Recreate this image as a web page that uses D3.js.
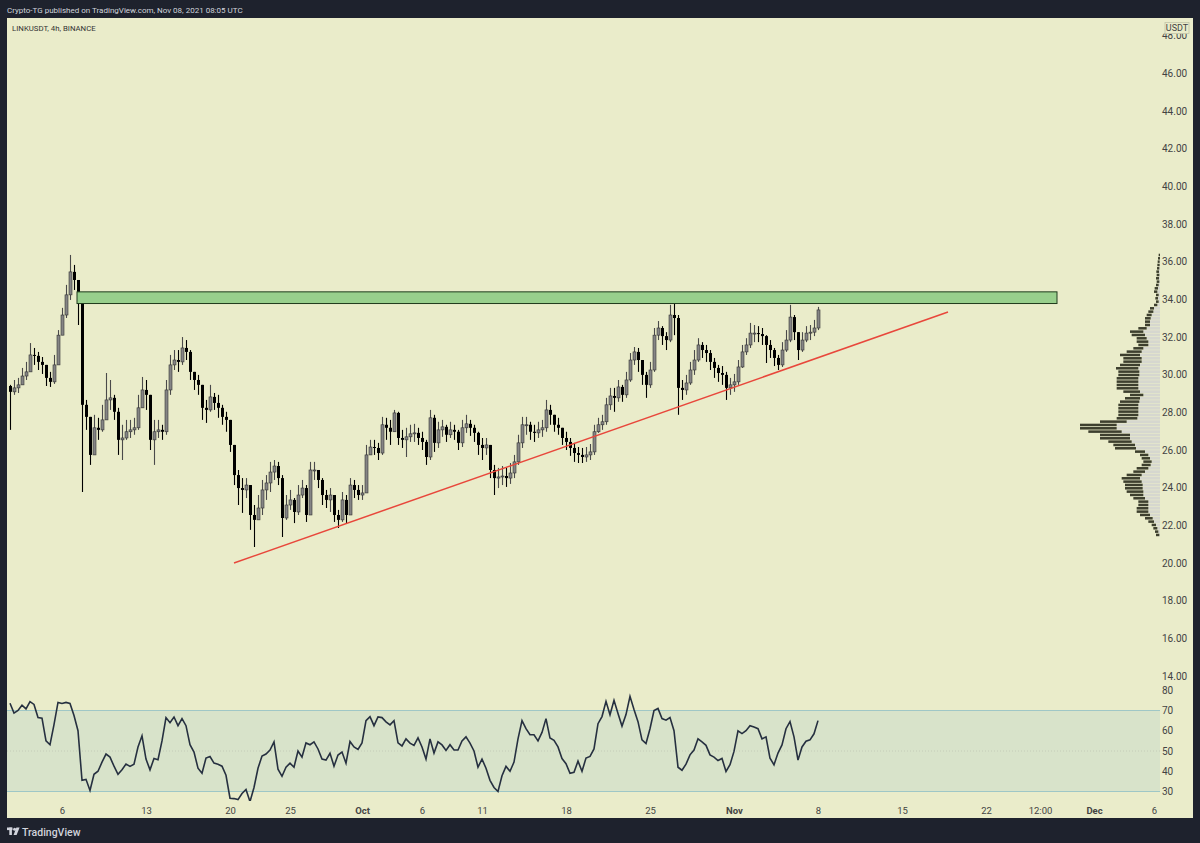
<!DOCTYPE html>
<html><head><meta charset="utf-8">
<script src="https://cdn.jsdelivr.net/npm/d3@7"></script>
<style>html,body{margin:0;padding:0;background:#1e222d;}svg{display:block;}text{font-family:Roboto,"Liberation Sans",sans-serif;}</style>
</head><body><svg id="c" width="1200" height="843"></svg>
<script>
// ---------- DATA (8h candles, LINKUSDT) ----------
const firstCandle = Date.UTC(2021, 8, 1, 16);   // Sep 1 16:00 UTC
const candleHours = 8;
const firstOpen = 29.40;
const closes = [
29.09,29.30,29.46,29.93,30.15,31.05,31.00,30.68,30.52,29.83,
29.62,30.52,32.10,33.17,34.24,35.46,35.03,33.97,28.40,27.76,
25.74,27.18,27.07,27.60,28.66,28.77,28.03,26.54,26.64,26.97,
27.07,27.18,28.24,29.19,28.93,26.54,26.97,27.07,26.97,29.19,
30.52,30.78,30.68,31.42,31.21,30.15,29.72,29.46,28.24,28.13,
28.82,28.50,28.24,27.76,27.60,26.27,24.67,23.98,23.88,24.14,
22.55,22.29,22.92,23.88,24.25,24.83,25.15,24.51,22.39,23.08,
23.35,22.71,23.61,23.98,22.55,24.94,24.94,24.41,23.61,23.35,
23.61,22.55,22.29,23.35,22.55,24.14,23.88,23.61,23.72,25.74,
26.16,26.11,25.84,27.34,27.18,26.97,27.97,26.64,26.54,26.70,
26.86,26.91,26.64,26.43,25.63,27.71,26.38,27.07,27.23,26.81,
27.07,26.97,26.38,27.18,27.39,27.18,26.91,26.27,26.11,26.27,
24.94,24.51,24.57,24.62,24.51,24.78,25.37,26.38,27.34,27.34,
26.97,26.91,27.07,27.18,28.13,27.87,27.34,27.18,26.64,26.43,
26.11,25.84,25.74,25.63,25.74,25.90,26.97,27.34,27.50,28.40,
28.87,28.77,29.35,28.93,29.72,30.78,31.21,30.78,29.99,29.46,
30.25,32.10,32.48,32.05,31.84,33.17,33.01,29.30,29.19,29.56,
30.25,30.78,31.58,31.31,31.15,30.68,30.36,30.09,29.99,29.30,
29.46,29.62,30.41,31.21,31.58,32.21,32.21,32.16,32.05,31.58,
31.31,30.89,30.52,31.31,31.84,33.06,32.26,31.31,31.84,32.21,
32.26,32.48,33.44];
const highs = [
29.46,29.72,29.83,30.36,30.68,31.68,31.42,31.21,30.94,30.52,
30.15,31.05,32.37,33.55,34.77,36.36,35.83,34.77,33.97,28.66,
27.34,27.87,27.71,28.40,30.09,29.72,28.93,28.24,27.34,27.60,
27.60,27.71,28.93,29.88,29.72,27.87,27.60,27.60,27.34,29.72,
31.05,31.31,31.31,32.00,31.84,31.31,30.15,29.99,29.46,28.66,
29.46,29.03,28.93,28.40,28.03,27.60,26.27,24.94,24.51,24.51,
24.14,23.08,23.61,24.41,24.67,25.37,25.47,25.37,24.67,23.61,
23.88,23.45,24.14,24.41,24.14,25.37,25.37,24.94,24.51,23.88,
23.98,23.61,22.82,23.77,23.61,24.51,24.41,24.14,24.14,26.27,
26.54,26.54,26.38,27.76,27.71,27.60,28.13,28.03,27.07,27.18,
27.34,27.39,27.18,26.97,26.54,28.13,27.87,27.50,27.60,27.34,
27.50,27.34,27.07,27.60,27.87,27.60,27.34,26.97,26.64,26.64,
26.27,25.21,25.05,25.15,25.05,25.31,25.74,26.81,27.76,27.76,
27.50,27.34,27.50,27.60,28.66,28.40,27.87,27.71,27.18,26.97,
26.64,26.38,26.16,26.11,26.16,26.32,27.34,27.71,27.87,28.77,
29.30,29.30,29.72,29.46,30.15,31.15,31.47,31.42,30.78,30.15,
30.68,32.48,32.85,32.58,32.26,33.71,33.86,33.17,29.72,29.99,
30.68,31.31,31.94,31.73,31.58,31.31,30.89,30.52,30.46,30.15,
29.83,30.04,30.78,31.58,31.94,32.75,32.64,32.58,32.48,32.10,
31.84,31.42,31.05,31.73,32.37,33.71,33.17,32.26,32.26,32.58,
32.64,32.91,33.60];
const lows = [
27.07,28.93,29.03,29.46,29.72,30.15,30.52,30.25,30.04,29.40,
29.35,29.51,31.21,32.37,33.01,33.97,34.50,32.64,23.77,27.07,
25.21,26.27,26.54,26.97,28.03,28.13,27.60,25.74,25.47,26.54,
26.64,26.81,27.07,28.66,28.13,26.00,25.21,26.64,26.54,26.81,
28.93,30.25,30.15,30.52,30.78,29.72,29.19,28.93,27.60,27.44,
28.03,28.13,27.71,27.34,26.97,25.90,24.14,23.08,22.66,23.45,
21.76,20.85,22.29,22.55,23.35,23.77,24.41,24.14,21.38,22.29,
22.82,22.12,22.55,23.45,22.18,23.35,24.41,23.98,23.08,22.92,
22.71,22.18,21.86,22.18,22.12,22.55,23.45,23.35,23.35,24.14,
25.74,25.74,25.47,25.74,26.54,26.27,26.97,26.27,26.11,25.63,
26.43,26.43,26.27,26.00,25.21,25.47,25.90,26.11,26.70,26.43,
26.64,26.54,26.00,26.16,26.91,26.75,26.43,25.74,25.47,25.74,
24.51,23.61,23.98,24.14,24.04,24.20,24.51,25.21,26.11,26.81,
26.54,26.43,26.64,26.70,26.97,27.34,26.97,26.81,26.27,26.00,
25.69,25.37,25.31,25.31,25.37,25.47,25.74,26.91,27.07,27.34,
28.13,28.03,28.56,28.56,28.77,29.62,30.52,30.15,29.46,28.77,
29.30,30.15,31.84,31.58,31.31,31.73,32.10,27.87,28.66,28.93,
29.46,29.99,30.68,30.89,30.68,30.25,29.83,29.62,29.46,28.66,
28.93,29.09,29.46,30.36,31.05,31.42,31.73,31.73,31.58,30.62,
30.89,30.46,30.25,30.41,31.21,31.73,31.84,30.78,31.21,31.73,
31.84,32.05,32.37];
const rsi = [
73.6,68.7,70.0,72.6,70.8,74.4,73.0,66.5,66.2,55.0,
53.1,63.0,74.0,73.5,74.0,73.5,67.5,60.0,35.5,36.0,
30.5,38.5,40.0,44.5,48.5,47.0,42.5,38.5,40.7,43.5,
42.4,43.5,52.0,57.5,46.0,40.7,46.3,45.7,55.0,66.5,
64.0,66.8,62.5,66.0,62.5,53.1,49.5,41.5,39.0,46.5,
47.3,44.0,43.5,42.5,38.0,26.7,26.5,26.0,29.0,31.0,
25.0,32.0,41.5,47.5,48.5,50.5,54.5,41.0,37.5,42.0,
44.0,42.0,50.0,47.0,54.0,53.1,54.5,51.0,46.0,45.5,
48.9,42.5,48.0,49.5,44.0,54.7,52.0,50.8,54.0,65.0,
67.0,62.5,66.8,66.5,64.4,62.9,65.0,54.0,52.5,56.0,
53.9,52.8,56.5,52.0,46.0,56.0,49.0,54.5,53.0,50.3,
53.1,50.5,50.5,55.0,57.0,53.9,50.0,42.0,46.0,41.5,
35.5,32.0,30.0,37.8,42.4,40.0,44.5,56.0,65.0,61.0,
58.0,58.0,55.0,59.2,66.0,56.4,55.3,52.0,46.3,43.7,
39.0,39.5,45.0,40.0,46.5,47.3,51.0,63.5,67.0,74.5,
67.9,75.0,68.5,62.3,68.0,77.0,70.5,64.5,55.5,53.7,
61.0,70.0,71.0,66.0,65.2,66.5,60.0,42.0,40.5,43.5,
48.1,50.5,56.0,54.5,52.8,48.1,47.0,45.3,46.3,39.9,
43.2,49.8,60.0,58.6,60.0,62.5,61.8,61.0,56.0,57.0,
46.5,43.2,49.0,53.0,61.0,64.5,57.0,45.5,52.0,54.8,
55.5,58.5,65.0];
// Volume profile rows, bottom to top (relative volume units)
const profileLow = 21.49, profileStep = 0.177;
const profileDown = [10,10,12,13,17,23,30,35,35,30,30,35,40,50,53,53,55,55,45,35,35,27,25,25,25,30,63,65,70,90,90,100,110,110,80,62,60,60,60,60,58,45,40,50,65,65,65,65,63,63,67,60,55,55,60,45,30,30,35,30,40,40,25,15,15,17,15,15,12,10,8,8,8,10,10,8,8,9,8,8,7,7,6,6,4];
const profileUp   = [2,5,8,12,18,22,30,35,35,35,35,45,50,50,52,52,55,60,55,45,35,28,25,30,35,45,72,75,85,90,90,115,130,130,100,68,65,65,65,65,62,60,50,60,65,65,65,65,62,62,65,60,55,55,60,55,50,35,35,40,45,50,40,30,30,28,25,20,18,8,4,6,4,8,6,4,2,3,2,3,2,1,1,0,0];
// Drawings
const zoneTimes = [Date.UTC(2021,8,7,6), Date.UTC(2021,10,27,22)];
const zonePrices = [34.40, 33.78];
const trendTimes = [Date.UTC(2021,8,20,8), Date.UTC(2021,10,18,20)];
const trendPrices = [20.00, 33.33];
// Axes
const priceTicks = [14,16,18,20,22,24,26,28,30,32,34,36,38,40,42,44,46,48];
const rsiTicks = [30,40,50,60,70,80];
const xTickDates = [Date.UTC(2021,8,6),Date.UTC(2021,8,13),Date.UTC(2021,8,20),Date.UTC(2021,8,25),Date.UTC(2021,9,1),Date.UTC(2021,9,6),Date.UTC(2021,9,11),Date.UTC(2021,9,18),Date.UTC(2021,9,25),Date.UTC(2021,10,1),Date.UTC(2021,10,8),Date.UTC(2021,10,15),Date.UTC(2021,10,22),Date.UTC(2021,10,26,12),Date.UTC(2021,11,1),Date.UTC(2021,11,6)];
const xTickLabels = ["6","13","20","25","Oct","6","11","18","25","Nov","8","15","22","12:00","Dec","6"];
const headerText = "Crypto-TG published on TradingView.com, Nov 08, 2021 08:05 UTC";
const titleText = "LINKUSDT, 4h, BINANCE";

// ---------- CHART ----------
const W = 1200, H = 843;
const svg = d3.select('#c');
const P = {l:7, r:1193, t:18, b:818};
const BG = '#eaecca';
svg.append('rect').attr('width',W).attr('height',H).attr('fill','#1e222d');
svg.append('rect').attr('x',P.l).attr('y',P.t).attr('width',P.r-P.l).attr('height',P.b-P.t).attr('fill',BG);

const x = d3.scaleUtc().domain([new Date(Date.UTC(2021,8,6)), new Date(Date.UTC(2021,10,8))]).range([62, 818]);
const y = d3.scaleLinear().domain([20, 46]).range([563, 563 - 26*18.83]);
const yR = d3.scaleLinear().domain([30, 70]).range([791.5, 710.5]);

const defs = svg.append('defs');
defs.append('clipPath').attr('id','cp').append('rect').attr('x',P.l).attr('y',P.t).attr('width',1160-P.l).attr('height',685-P.t);
defs.append('clipPath').attr('id','cr').append('rect').attr('x',P.l).attr('y',686).attr('width',P.r-P.l).attr('height',115);
defs.append('clipPath').attr('id','ct').append('rect').attr('x',1150).attr('y',33.6).attr('width',50).attr('height',20);

const candles = closes.map((c,i)=>{
  const o = i===0 ? firstOpen : closes[i-1];
  return {t:new Date(firstCandle + i*candleHours*3600e3), o, c, h:Math.max(highs[i],o,c), l:Math.min(lows[i],o,c)};
});

const gp = svg.append('g').attr('clip-path','url(#cp)');
const cg = gp.append('g');
cg.selectAll('line.w').data(candles).join('line')
  .attr('x1',d=>Math.round(x(d.t))+0.5).attr('x2',d=>Math.round(x(d.t))+0.5)
  .attr('y1',d=>y(d.h)).attr('y2',d=>y(d.l))
  .attr('stroke',d=>d.c>=d.o?'#4a4a4a':'#000').attr('stroke-width',1.1);
cg.selectAll('rect.b').data(candles).join('rect')
  .attr('x',d=>Math.round(x(d.t))-1).attr('width',3)
  .attr('y',d=>y(Math.max(d.o,d.c))).attr('height',d=>Math.max(1,Math.abs(y(d.o)-y(d.c))))
  .attr('fill',d=>d.c>=d.o?'#858585':'#000')
  .attr('stroke',d=>d.c>=d.o?'#333':'none').attr('stroke-width',0.6);

// zone
gp.append('rect').attr('x',x(zoneTimes[0])).attr('y',y(zonePrices[0]))
  .attr('width',x(zoneTimes[1])-x(zoneTimes[0])).attr('height',y(zonePrices[1])-y(zonePrices[0]))
  .attr('fill','#98cf8c').attr('stroke','#1f3a1c').attr('stroke-width',1);
// trend line
gp.append('line').attr('x1',x(trendTimes[0])).attr('y1',y(trendPrices[0]))
  .attr('x2',x(trendTimes[1])).attr('y2',y(trendPrices[1]))
  .attr('stroke','#e8473b').attr('stroke-width',1.5);

// volume profile
const vx = d3.scaleLinear().domain([0,240]).range([0,80]);
const base = 1160;
const rowH = profileStep*18.83;
const rows = profileDown.map((d,i)=>({p:profileLow+i*profileStep, d, u:profileUp[i]}));
const vp = svg.append('g');
vp.selectAll('rect.u').data(rows).join('rect')
  .attr('x',r=>base-vx(r.u)).attr('width',r=>vx(r.u))
  .attr('y',r=>y(r.p)-rowH/2+0.3).attr('height',rowH-0.6).attr('fill','#d6d7cf');
vp.selectAll('rect.d').data(rows).join('rect')
  .attr('x',r=>base-vx(r.u)-vx(r.d)).attr('width',r=>vx(r.d))
  .attr('y',r=>y(r.p)-rowH/2+0.4).attr('height',rowH-0.8).attr('fill','#3d3f2e');

// RSI pane
const gr = svg.append('g').attr('clip-path','url(#cr)');
gr.append('rect').attr('x',P.l).attr('y',yR(70)).attr('width',1160-P.l).attr('height',yR(30)-yR(70)).attr('fill','#d8e3ca');
[70,30].forEach(v=>gr.append('line').attr('x1',P.l).attr('x2',1160).attr('y1',yR(v)).attr('y2',yR(v)).attr('stroke','#9fc7c6').attr('stroke-width',1));
gr.append('line').attr('x1',P.l).attr('x2',1160).attr('y1',yR(50)).attr('y2',yR(50)).attr('stroke','#c4ccb8').attr('stroke-width',1).attr('stroke-dasharray','1,2');
gr.append('path').datum(rsi).attr('fill','none').attr('stroke','#263040').attr('stroke-width',1.6)
  .attr('d', d3.line().x((v,i)=>x(candles[i].t)).y(v=>yR(v)));

// price axis (wrapped in a clip-free group; the top tick sits under the USDT box)
const axWrap = svg.append('g');
const ay = axWrap.append('g').attr('transform','translate(1155,0)').call(d3.axisRight(y).tickValues(priceTicks.filter(v=>v<48)).tickFormat(d3.format('.2f')).tickSize(0));
ay.select('.domain').remove();
ay.selectAll('text').attr('x',7).attr('fill','#434343').attr('font-size',10).attr('font-family','Roboto, sans-serif');
const topWrap = axWrap.append('g').attr('clip-path','url(#ct)');
const ayTop = topWrap.append('g').attr('transform','translate(1155,0)').call(d3.axisRight(y).tickValues(priceTicks.filter(v=>v>=48)).tickFormat(d3.format('.2f')).tickSize(0));
ayTop.select('.domain').remove();
ayTop.selectAll('text').attr('x',7).attr('fill','#434343').attr('font-size',10).attr('font-family','Roboto, sans-serif');
// RSI axis
const ar = svg.append('g').attr('clip-path','url(#cr)').append('g').attr('transform','translate(1155,0)').call(d3.axisRight(yR).tickValues(rsiTicks).tickSize(0));
ar.select('.domain').remove();
ar.selectAll('text').attr('x',7).attr('fill','#434343').attr('font-size',10).attr('font-family','Roboto, sans-serif');
// USDT label
svg.append('rect').attr('x',1165).attr('y',22.5).attr('width',24).attr('height',11).attr('fill',BG).attr('stroke','#c2c4a8').attr('stroke-width',0.8);
svg.append('text').attr('x',1177).attr('y',31).attr('text-anchor','middle').attr('font-size',9).attr('fill','#434343').text('USDT');

// x axis
const ax = svg.append('g').attr('transform','translate(0,804)').call(d3.axisBottom(x).tickValues(xTickDates.map(d=>new Date(d))).tickFormat((d,i)=>xTickLabels[i]).tickSize(0));
ax.select('.domain').remove();
ax.selectAll('text').attr('fill','#434343').attr('font-size',9.5).attr('font-family','Roboto, sans-serif')
  .attr('font-weight',(d,i)=>/^[A-Z]/.test(xTickLabels[i])?'bold':'normal');

// header / title / footer
svg.append('text').attr('x',7).attr('y',12.5).attr('font-size',8).attr('fill','#d1d4dc').text(headerText);
svg.append('text').attr('x',12).attr('y',31).attr('font-size',7.8).attr('fill','#333').text(titleText);
const lg = svg.append('g').attr('fill','#d1d4dc');
lg.append('rect').attr('x',7).attr('y',827.5).attr('width',5.5).attr('height',2.6);
lg.append('rect').attr('x',9.3).attr('y',827.5).attr('width',2.6).attr('height',7.5);
lg.append('circle').attr('cx',14.6).attr('cy',829.2).attr('r',1.5);
lg.append('path').attr('d','M16.4,827.5 L19.6,827.5 L16.6,835 L13.6,835 Z');
svg.append('text').attr('x',22).attr('y',835.5).attr('font-size',10.5).attr('font-weight',500).attr('fill','#d1d4dc').text('TradingView');
</script></body></html>
